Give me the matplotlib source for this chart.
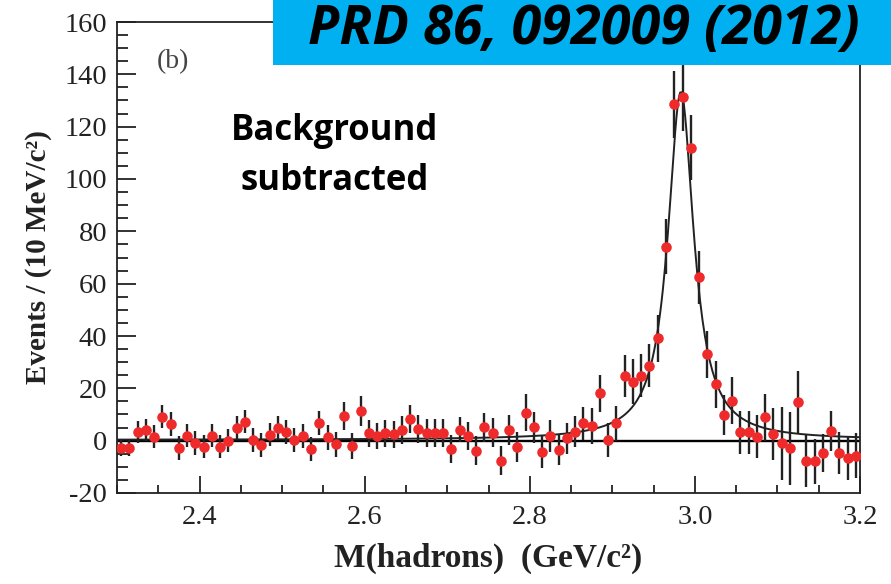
import numpy as np
import matplotlib
matplotlib.use('Agg')
import matplotlib.pyplot as plt
from matplotlib.ticker import MultipleLocator

plt.rcParams['font.family'] = ['Liberation Serif', 'DejaVu Serif']
plt.rcParams['axes.unicode_minus'] = False

# 10 MeV bins from 2.30 to 3.20 GeV, background subtracted yields
mass = np.round(np.arange(2.305, 3.2, 0.01), 3)
events = [-2.8, -2.8, 3.3, 4.0, 1.5, 9.2, 6.4, -2.8, 1.9, -0.9,
          -2.3, 1.9, -2.3, 0.0, 5.0, 7.3, 0.3, -1.7, 2.3, 4.7,
          3.2, 0.3, 1.9, -3.2, 6.9, 1.3, -1.3, 9.4, -2.0, 11.3,
          2.8, 1.8, 2.8, 2.4, 4.1, 8.2, 4.5, 2.8, 2.8, 2.8,
          -3.3, 4.1, 1.8, -3.8, 5.1, 3.1, -7.6, 4.1, -2.5, 10.7,
          5.1, -4.2, 1.8, -3.6, 0.9, 3.4, 6.6, 5.6, 18.1, 0.3,
          6.6, 24.6, 22.5, 24.9, 28.7, 39.2, 74.2, 128.5, 131.5, 112.0,
          62.4, 33.0, 21.6, 9.8, 15.2, 3.2, 3.2, 1.5, 8.9, 2.4,
          -1.0, -2.9, 14.7, -7.8, -7.8, -4.8, 3.8, -4.8, -6.7, -5.8]
errors = [3.0, 3.0, 4.1, 4.3, 4.3, 4.5, 4.5, 4.5, 4.5, 4.5,
          4.5, 4.5, 4.5, 4.5, 4.5, 4.5, 4.5, 4.5, 4.5, 4.6,
          4.6, 4.6, 4.6, 4.6, 4.6, 4.7, 4.8, 5.5, 5.0, 5.7,
          5.1, 5.1, 5.1, 5.1, 5.2, 5.3, 5.3, 5.3, 5.3, 5.3,
          5.3, 4.8, 5.3, 5.5, 5.5, 5.5, 5.6, 5.6, 5.8, 7.0,
          6.0, 6.2, 6.0, 5.7, 6.0, 6.0, 6.4, 6.7, 7.0, 6.4,
          6.7, 8.0, 8.6, 8.3, 8.3, 9.0, 10.5, 12.7, 13.0, 12.4,
          10.0, 9.0, 9.0, 7.6, 9.0, 8.3, 8.3, 8.3, 9.0, 9.9,
          14.0, 14.0, 12.0, 9.9, 8.6, 7.3, 7.6, 8.0, 8.3, 8.6]

# fitted Breit-Wigner line shape (peak position, width, height, flat level)
fit_mass = 2.983
fit_width = 0.038
fit_height = 133.0
fit_flat = 0.3

x_fit = np.linspace(2.30, 3.20, 600)
y_fit = fit_flat + fit_height / (1 + ((x_fit - fit_mass) / (fit_width / 2)) ** 2)

fig = plt.figure(figsize=(8.91, 5.84), dpi=100)
ax = fig.add_axes([117 / 891, 1 - 493 / 584, (860 - 117) / 891, (493 - 22) / 584])

ax.axhline(0, color='black', lw=1.7, zorder=2)
ax.plot(x_fit, y_fit, color='#222222', lw=1.4, zorder=3)
ax.errorbar(mass, events, yerr=errors, fmt='none', ecolor='#222222',
            elinewidth=1.7, capsize=0, zorder=4)
ax.plot(mass, events, 'o', color='#ee2a2a', markersize=7.6, mec='none', zorder=5)

ax.set_xlim(2.3, 3.2)
ax.set_ylim(-20, 160)
ax.xaxis.set_major_locator(MultipleLocator(0.2))
ax.xaxis.set_minor_locator(MultipleLocator(0.05))
ax.yaxis.set_major_locator(MultipleLocator(20))
ax.yaxis.set_minor_locator(MultipleLocator(5))
ax.set_xticks([2.4, 2.6, 2.8, 3.0, 3.2])
ax.set_xticklabels(['2.4', '2.6', '2.8', '3.0', '3.2'])

ax.tick_params(which='both', direction='in', top=False, right=False,
               width=1.3, color='#222222', labelsize=20.5, labelcolor='#222222')
ax.tick_params(axis='y', which='major', length=14, pad=7)
ax.tick_params(axis='y', which='minor', length=8)
ax.tick_params(axis='x', which='major', length=12, pad=9)
ax.tick_params(axis='x', which='minor', length=6)
for s in ax.spines.values():
    s.set_linewidth(1.3)
    s.set_color('#222222')

ax.set_xlabel('M(hadrons)  (GeV/c²)', fontweight='bold', fontsize=24,
              color='#222222', labelpad=9)
ax.set_ylabel('Events / (10 MeV/c²)', fontweight='bold', fontsize=21,
              color='#222222', labelpad=9)

fig.text(173 / 891, 1 - 62 / 584, '(b)', fontsize=20,
         color='#444444', ha='center', va='center')
fig.text(335 / 891, 1 - 156 / 584, 'Background\nsubtracted', family='Open Sans',
         fontweight='bold', fontsize=25, ha='center', va='center',
         linespacing=1.5, color='black')

# citation banner
fig.patches.append(matplotlib.patches.Rectangle((273 / 891, 1 - 65 / 584),
                   (891 - 273) / 891, 65 / 584, transform=fig.transFigure,
                   facecolor='#00b0f0', edgecolor='none', zorder=10))
fig.text(584 / 891, 1 - 44 / 584, 'PRD 86, 092009 (2012)', family='Open Sans',
         fontweight='bold', style='italic', fontsize=39, ha='center',
         va='baseline', color='black', zorder=11)

fig.savefig('out.png', dpi=100)
